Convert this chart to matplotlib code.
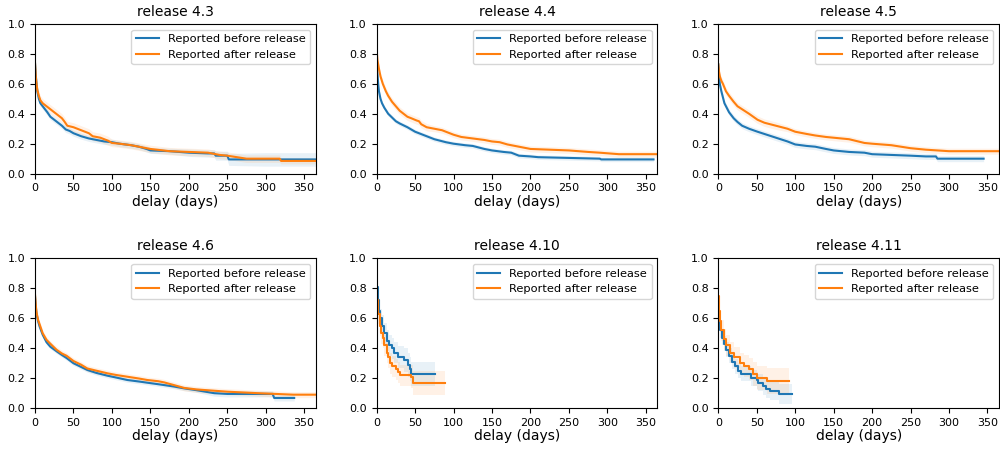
import matplotlib
matplotlib.use("Agg")
import matplotlib.pyplot as plt

releases = ["4.3", "4.4", "4.5", "4.6", "4.10", "4.11"]

# release 4.3
r43_before_t = [0, 1, 2, 3, 5, 7, 10, 13, 16, 20, 25, 30, 35, 40, 45, 50, 55, 60, 70, 80, 90,
                100, 110, 125, 135, 145, 150, 175, 200, 225, 233, 235, 250, 252, 300, 370]
r43_before_s = [0.74, 0.66, 0.60, 0.55, 0.50, 0.47, 0.45, 0.43, 0.41, 0.38, 0.36, 0.34, 0.32, 0.295,
                0.285, 0.27, 0.26, 0.25, 0.235, 0.225, 0.215, 0.21, 0.20, 0.19, 0.18, 0.165, 0.155,
                0.15, 0.14, 0.135, 0.135, 0.12, 0.12, 0.095, 0.095, 0.095]
r43_before_ci = [0.01, 0.02, 0.02, 0.02, 0.02, 0.02, 0.02, 0.02, 0.02, 0.02, 0.02, 0.02, 0.02, 0.02,
                 0.02, 0.02, 0.02, 0.02, 0.02, 0.02, 0.02, 0.02, 0.02, 0.02, 0.02, 0.02, 0.02,
                 0.02, 0.025, 0.025, 0.025, 0.03, 0.03, 0.04, 0.045, 0.045]
r43_after_t = [0, 1, 2, 3, 5, 7, 10, 15, 20, 25, 30, 35, 38, 42, 50, 60, 70, 75, 85, 95, 100, 110,
               125, 140, 150, 175, 200, 225, 240, 250, 275, 318, 320, 370]
r43_after_s = [0.74, 0.65, 0.60, 0.56, 0.52, 0.49, 0.47, 0.45, 0.43, 0.41, 0.39, 0.37, 0.35, 0.32,
               0.31, 0.29, 0.27, 0.25, 0.24, 0.22, 0.205, 0.20, 0.19, 0.175, 0.165, 0.15, 0.145,
               0.14, 0.125, 0.12, 0.10, 0.10, 0.085, 0.085]
r43_after_ci = [0.01, 0.03, 0.03, 0.03, 0.03, 0.03, 0.03, 0.03, 0.03, 0.03, 0.03, 0.03, 0.03, 0.03,
                0.03, 0.03, 0.03, 0.03, 0.03, 0.03, 0.025, 0.025, 0.025, 0.025, 0.025, 0.025, 0.025,
                0.025, 0.025, 0.025, 0.025, 0.025, 0.02, 0.02]

# release 4.4
r44_before_t = [0, 1, 2, 3, 5, 7, 10, 15, 20, 25, 30, 40, 50, 60, 75, 90, 100, 115, 125, 140, 150,
                165, 175, 180, 185, 200, 210, 250, 290, 292, 360]
r44_before_s = [0.75, 0.67, 0.60, 0.55, 0.50, 0.47, 0.44, 0.40, 0.375, 0.35, 0.335, 0.31, 0.28,
                0.26, 0.23, 0.21, 0.20, 0.19, 0.185, 0.165, 0.155, 0.145, 0.14, 0.13, 0.12, 0.115,
                0.11, 0.105, 0.10, 0.095, 0.095]
r44_before_ci = [0.01, 0.015, 0.015, 0.015, 0.015, 0.015, 0.015, 0.015, 0.015, 0.015, 0.015, 0.015,
                 0.015, 0.015, 0.015, 0.015, 0.015, 0.015, 0.015, 0.015, 0.015, 0.015, 0.015, 0.015,
                 0.015, 0.015, 0.015, 0.015, 0.015, 0.015, 0.015]
r44_after_t = [0, 1, 3, 5, 8, 12, 15, 20, 25, 30, 35, 40, 45, 52, 55, 58, 65, 75, 85, 100, 110, 125,
               140, 150, 160, 170, 185, 200, 225, 250, 275, 290, 315, 370]
r44_after_s = [0.83, 0.76, 0.70, 0.65, 0.60, 0.55, 0.52, 0.48, 0.45, 0.42, 0.40, 0.38, 0.37, 0.355,
               0.35, 0.33, 0.31, 0.30, 0.29, 0.26, 0.245, 0.235, 0.225, 0.215, 0.21, 0.195, 0.18,
               0.165, 0.16, 0.155, 0.145, 0.14, 0.13, 0.13]
r44_after_ci = [0.01, 0.025, 0.025, 0.025, 0.025, 0.025, 0.025, 0.025, 0.025, 0.025, 0.025, 0.025,
                0.025, 0.025, 0.025, 0.025, 0.025, 0.02, 0.02, 0.02, 0.02, 0.02, 0.02, 0.02, 0.02,
                0.02, 0.02, 0.02, 0.02, 0.02, 0.02, 0.02, 0.02, 0.02]

# release 4.5
r45_before_t = [0, 1, 2, 4, 6, 8, 10, 14, 20, 25, 31, 40, 51, 60, 75, 90, 100, 115, 126, 140, 150,
                170, 190, 200, 225, 250, 270, 283, 285, 345]
r45_before_s = [0.73, 0.66, 0.60, 0.55, 0.51, 0.47, 0.45, 0.41, 0.37, 0.345, 0.32, 0.30, 0.28,
                0.265, 0.24, 0.215, 0.195, 0.185, 0.18, 0.165, 0.155, 0.145, 0.14, 0.13, 0.125,
                0.12, 0.115, 0.115, 0.10, 0.10]
r45_before_ci = [0.01, 0.02, 0.02, 0.02, 0.02, 0.02, 0.02, 0.02, 0.02, 0.02, 0.02, 0.02, 0.02,
                 0.02, 0.02, 0.02, 0.02, 0.02, 0.02, 0.02, 0.02, 0.02, 0.02, 0.02, 0.02, 0.02,
                 0.02, 0.02, 0.02, 0.02]
r45_after_t = [0, 1, 2, 4, 6, 10, 14, 20, 25, 31, 40, 51, 60, 75, 90, 100, 115, 126, 140, 150, 170,
               190, 200, 225, 250, 270, 300, 370]
r45_after_s = [0.73, 0.68, 0.65, 0.62, 0.60, 0.55, 0.52, 0.48, 0.45, 0.43, 0.40, 0.36, 0.34, 0.32,
               0.30, 0.28, 0.265, 0.255, 0.245, 0.24, 0.23, 0.205, 0.20, 0.19, 0.17, 0.16, 0.15,
               0.15]
r45_after_ci = [0.01, 0.025, 0.025, 0.025, 0.025, 0.025, 0.025, 0.025, 0.025, 0.025, 0.025, 0.025,
                0.025, 0.025, 0.02, 0.02, 0.02, 0.02, 0.02, 0.02, 0.02, 0.02, 0.02, 0.02, 0.02,
                0.02, 0.02, 0.02]

# release 4.6
r46_before_t = [0, 1, 2, 4, 6, 10, 15, 20, 28, 35, 41, 50, 60, 68, 80, 94, 105, 120, 135, 146, 160,
                168, 180, 194, 210, 233, 250, 309, 311, 337]
r46_before_s = [0.75, 0.68, 0.63, 0.58, 0.545, 0.49, 0.44, 0.41, 0.38, 0.355, 0.335, 0.30, 0.275,
                0.255, 0.235, 0.217, 0.205, 0.188, 0.178, 0.17, 0.16, 0.154, 0.145, 0.132, 0.12,
                0.10, 0.095, 0.095, 0.068, 0.068]
r46_before_ci = [0.01, 0.015, 0.015, 0.015, 0.015, 0.015, 0.015, 0.015, 0.015, 0.015, 0.015, 0.015,
                 0.015, 0.015, 0.015, 0.015, 0.015, 0.015, 0.015, 0.015, 0.015, 0.015, 0.015,
                 0.015, 0.015, 0.02, 0.02, 0.02, 0.02, 0.02]
r46_after_t = [0, 1, 2, 4, 6, 10, 15, 20, 28, 35, 41, 50, 60, 68, 80, 94, 105, 120, 135, 146, 160,
               168, 180, 194, 210, 250, 290, 336, 370]
r46_after_s = [0.76, 0.69, 0.64, 0.59, 0.56, 0.50, 0.456, 0.43, 0.39, 0.365, 0.35, 0.315, 0.29,
               0.265, 0.25, 0.233, 0.222, 0.21, 0.198, 0.188, 0.18, 0.172, 0.155, 0.135, 0.125,
               0.11, 0.10, 0.09, 0.09]
r46_after_ci = [0.01, 0.02, 0.02, 0.02, 0.02, 0.02, 0.02, 0.02, 0.02, 0.02, 0.02, 0.02, 0.02, 0.02,
                0.02, 0.02, 0.02, 0.02, 0.02, 0.02, 0.02, 0.02, 0.02, 0.02, 0.02, 0.02, 0.02,
                0.02, 0.02]

# release 4.10
r410_before_t = [0, 2, 3, 5, 7, 10, 13, 16, 20, 23, 28, 36, 41, 43, 45, 76]
r410_before_s = [0.81, 0.72, 0.65, 0.60, 0.55, 0.50, 0.45, 0.42, 0.40, 0.37, 0.34, 0.32, 0.29,
                 0.26, 0.225, 0.225]
r410_before_ci = [0.03, 0.05, 0.06, 0.06, 0.07, 0.07, 0.07, 0.07, 0.07, 0.07, 0.075, 0.08, 0.08,
                  0.08, 0.08, 0.08]
r410_after_t = [0, 1, 2, 4, 5, 6, 8, 10, 13, 15, 18, 20, 25, 28, 30, 45, 47, 89]
r410_after_s = [0.80, 0.72, 0.63, 0.60, 0.55, 0.50, 0.47, 0.42, 0.37, 0.34, 0.30, 0.28, 0.26, 0.24,
                0.22, 0.21, 0.17, 0.17]
r410_after_ci = [0.03, 0.06, 0.07, 0.07, 0.07, 0.07, 0.07, 0.07, 0.07, 0.07, 0.07, 0.07, 0.07,
                 0.07, 0.07, 0.075, 0.08, 0.08]

# release 4.11
r411_before_t = [0, 1, 2, 5, 7, 10, 14, 18, 22, 25, 30, 40, 42, 50, 52, 58, 62, 67, 79, 96]
r411_before_s = [0.65, 0.57, 0.52, 0.47, 0.43, 0.39, 0.35, 0.31, 0.28, 0.25, 0.23, 0.23, 0.20,
                 0.185, 0.17, 0.15, 0.13, 0.115, 0.095, 0.095]
r411_before_ci = [0.04, 0.05, 0.05, 0.05, 0.05, 0.05, 0.05, 0.05, 0.05, 0.05, 0.05, 0.05, 0.055,
                  0.055, 0.055, 0.06, 0.06, 0.06, 0.065, 0.065]
r411_after_t = [0, 1, 2, 4, 7, 10, 15, 20, 28, 33, 40, 45, 50, 63, 92]
r411_after_s = [0.75, 0.65, 0.58, 0.52, 0.46, 0.42, 0.37, 0.34, 0.30, 0.28, 0.26, 0.23, 0.20, 0.18,
                0.18]
r411_after_ci = [0.04, 0.07, 0.07, 0.07, 0.07, 0.07, 0.07, 0.07, 0.07, 0.075, 0.075, 0.08, 0.08,
                 0.085, 0.085]

before = [
    (r43_before_t, r43_before_s, r43_before_ci),
    (r44_before_t, r44_before_s, r44_before_ci),
    (r45_before_t, r45_before_s, r45_before_ci),
    (r46_before_t, r46_before_s, r46_before_ci),
    (r410_before_t, r410_before_s, r410_before_ci),
    (r411_before_t, r411_before_s, r411_before_ci),
]
after = [
    (r43_after_t, r43_after_s, r43_after_ci),
    (r44_after_t, r44_after_s, r44_after_ci),
    (r45_after_t, r45_after_s, r45_after_ci),
    (r46_after_t, r46_after_s, r46_after_ci),
    (r410_after_t, r410_after_s, r410_after_ci),
    (r411_after_t, r411_after_s, r411_after_ci),
]
# long curves have many tiny steps -> draw through the read points, short ones as steps
stepped = [False, False, False, False, True, True]

fig, axes = plt.subplots(2, 3, figsize=(10, 4.51), dpi=100)
fig.subplots_adjust(left=0.035, right=0.999, top=0.947, bottom=0.095, wspace=0.217, hspace=0.566)

for ax, rel, b, a, st in zip(axes.flat, releases, before, after, stepped):
    for (t, s, ci), color, label in [(b, "tab:blue", "Reported before release"),
                                     (a, "tab:orange", "Reported after release")]:
        lo = [v - c for v, c in zip(s, ci)]
        hi = [v + c for v, c in zip(s, ci)]
        if st:
            ax.fill_between(t, lo, hi, step="post", color=color, alpha=0.1, linewidth=0)
            ax.plot(t, s, drawstyle="steps-post", color=color, lw=1.5, label=label)
        else:
            ax.fill_between(t, lo, hi, color=color, alpha=0.1, linewidth=0)
            ax.plot(t, s, color=color, lw=1.5, label=label)
    ax.set_xlim(0, 365)
    ax.set_ylim(0, 1)
    ax.set_xticks(range(0, 351, 50))
    ax.set_title("release " + rel, fontsize=10)
    ax.set_xlabel("delay (days)", fontsize=10, labelpad=1)
    ax.tick_params(labelsize=8)
    ax.legend(loc="upper right", fontsize=8.2)

fig.savefig("out.png")
